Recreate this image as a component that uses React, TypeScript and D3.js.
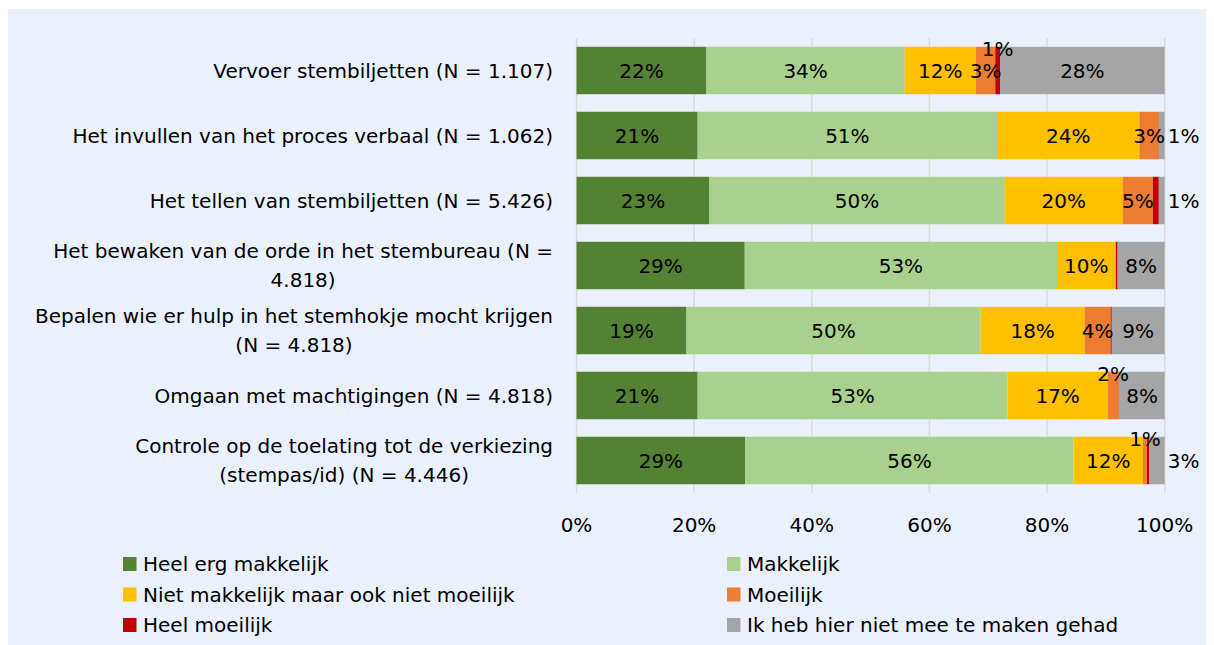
import React from "react";
import * as d3 from "d3";

const categories: string[][] = [
  ["Vervoer stembiljetten (N = 1.107)"],
  ["Het invullen van het proces verbaal (N = 1.062)"],
  ["Het tellen van stembiljetten (N = 5.426)"],
  ["Het bewaken van de orde in het stembureau (N =", "4.818)"],
  ["Bepalen wie er hulp in het stemhokje mocht krijgen", "(N = 4.818)"],
  ["Omgaan met machtigingen (N = 4.818)"],
  ["Controle op de toelating tot de verkiezing", "(stempas/id) (N = 4.446)"],
];

const seriesNames = [
  "Heel erg makkelijk",
  "Makkelijk",
  "Niet makkelijk maar ook niet moeilijk",
  "Moeilijk",
  "Heel moeilijk",
  "Ik heb hier niet mee te maken gehad",
];

const heelErgMakkelijk = [22.1, 20.6, 22.6, 28.6, 18.7, 20.6, 28.7];
const makkelijk = [33.7, 50.9, 50.2, 53.1, 50.0, 52.7, 55.8];
const neutraal = [12.1, 24.2, 20.1, 9.9, 17.7, 17.0, 11.8];
const moeilijk = [3.3, 3.3, 5.1, 0.1, 4.4, 1.9, 0.7];
const heelMoeilijk = [0.8, 0.1, 1.0, 0.3, 0.2, 0.1, 0.4];
const nietMeeGehad = [28.0, 0.9, 1.0, 8.0, 9.0, 7.7, 2.6];

const seriesValues = [heelErgMakkelijk, makkelijk, neutraal, moeilijk, heelMoeilijk, nietMeeGehad];

const colors = ["#548235", "#A9D18E", "#FFC000", "#ED7D31", "#C00000", "#A5A5A5"];

// label placement per row per series: in / above / right / none
const labelPlacement = [
  ["in", "in", "in", "in", "above", "in"],
  ["in", "in", "in", "in", "none", "right"],
  ["in", "in", "in", "in", "none", "right"],
  ["in", "in", "in", "none", "none", "in"],
  ["in", "in", "in", "in", "none", "in"],
  ["in", "in", "in", "above", "none", "in"],
  ["in", "in", "in", "above", "none", "right"],
];

const ticks = [0, 0.2, 0.4, 0.6, 0.8, 1];

const FONT = "'DejaVu Sans', sans-serif";
const FS = 20;

function measure(text: string, size: number): number {
  if (typeof document === "undefined") return text.length * size * 0.55;
  const c = document.createElement("canvas");
  const ctx = c.getContext("2d")!;
  ctx.font = `${size}px ${FONT}`;
  return ctx.measureText(text).width;
}

export default function App() {
  const W = 1206;
  const H = 637;
  const x = d3.scaleLinear().domain([0, 1]).range([576.5, 1164.7]);
  const y = d3
    .scaleBand<number>()
    .domain(d3.range(categories.length))
    .range([38, 493])
    .paddingInner(0.27)
    .paddingOuter(0.135);

  const rows = categories.map((_, i) => {
    const vals = seriesValues.map((s) => s[i] / 100);
    const stack: { x0: number; x1: number; s: number; v: number }[] = [];
    let acc = 0;
    vals.forEach((v, s) => {
      stack.push({ x0: acc, x1: acc + v, s, v });
      acc += v;
    });
    return stack;
  });

  const labelRight = 553;
  const lineH = 28.5;

  const legendCols = [123, 727];
  const legendRows = [564, 594.5, 625];

  return (
    <svg width={W} height={H} style={{ display: "block" }} fontFamily={FONT}>
      <g transform="translate(-8,-8)">
        <rect x={8} y={9} width={1206} height={636} fill="#EAF1FD" />
        {ticks.map((t) => (
          <line key={"g" + t} x1={x(t)} x2={x(t)} y1={38} y2={493} stroke="#D9D9D9" strokeWidth={1.5} />
        ))}
        {rows.map((stack, i) => (
          <g key={"r" + i}>
            {stack.map((d) => (
              <rect
                key={d.s}
                x={x(d.x0)}
                y={y(i)!}
                width={Math.max(0, x(d.x1) - x(d.x0))}
                height={y.bandwidth()}
                fill={colors[d.s]}
              />
            ))}
          </g>
        ))}
        {rows.map((stack, i) =>
          stack.map((d) => {
            const p = labelPlacement[i][d.s];
            if (p === "none") return null;
            const txt = `${Math.round(d.v * 100)}%`;
            const cy = y(i)! + y.bandwidth() / 2;
            let tx = (x(d.x0) + x(d.x1)) / 2;
            let ty = cy;
            let anchor: "middle" | "start" = "middle";
            if (p === "above") {
              ty = y(i)! + 2;
            } else if (p === "right") {
              tx = x(1) + 3;
              anchor = "start";
            }
            return (
              <text
                key={"l" + i + "-" + d.s}
                x={tx}
                y={ty}
                textAnchor={anchor}
                dominantBaseline="central"
                fontSize={FS}
                fill="#000"
              >
                {txt}
              </text>
            );
          })
        )}
        {categories.map((lines, i) => {
          const wBlock = Math.max(...lines.map((l) => measure(l, FS)));
          const cx = labelRight - wBlock / 2;
          const cy = y(i)! + y.bandwidth() / 2;
          return (
            <text key={"c" + i} textAnchor="middle" fontSize={FS} fill="#000">
              {lines.map((l, k) => (
                <tspan
                  key={k}
                  x={cx}
                  y={cy + (k - (lines.length - 1) / 2) * lineH}
                  dominantBaseline="central"
                >
                  {l}
                </tspan>
              ))}
            </text>
          );
        })}
        {ticks.map((t) => (
          <text key={"t" + t} x={x(t)} y={525} textAnchor="middle" dominantBaseline="central" fontSize={FS} fill="#000">
            {d3.format(".0%")(t)}
          </text>
        ))}
        {seriesNames.map((n, s) => {
          const col = s % 2;
          const row = Math.floor(s / 2);
          const lx = legendCols[col];
          const ly = legendRows[row];
          return (
            <g key={"lg" + s}>
              <rect x={lx} y={ly - 7} width={13.5} height={14} fill={colors[s]} />
              <text x={lx + 20} y={ly} dominantBaseline="central" fontSize={FS} fill="#000">
                {n}
              </text>
            </g>
          );
        })}
      </g>
    </svg>
  );
}
